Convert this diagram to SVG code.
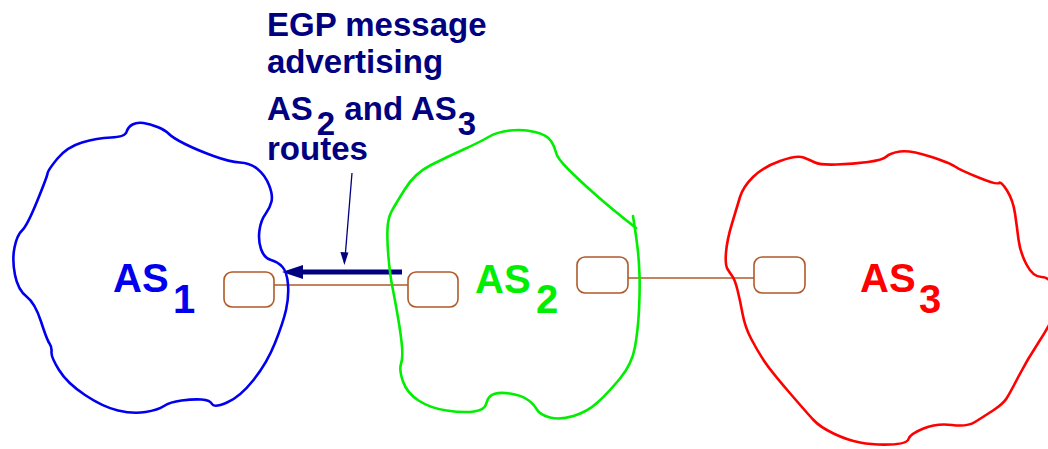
<svg xmlns="http://www.w3.org/2000/svg" width="1048" height="449" viewBox="0 0 1048 449">
  <style>
    .blob { fill: none; stroke-width: 2.6; stroke-linejoin: round; stroke-linecap: round; }
    .router { fill: #ffffff; stroke: #b05a28; stroke-width: 1.6; }
    .link { stroke: #b05a28; stroke-width: 1.6; fill: none; }
    .note { font-family: "Liberation Sans", Arial, sans-serif; font-weight: bold; font-size: 33px; fill: #000080; }
    .as { font-family: "Liberation Sans", Arial, sans-serif; font-weight: bold; font-size: 40px; }
    .sub { text-anchor: middle; }
  </style>

  <!-- inter-AS links -->
  <g id="connectors">
    <line class="link" x1="274" y1="285" x2="408" y2="285"/>
    <line class="link" x1="628" y1="278" x2="754" y2="278"/>
    <!-- EGP advertisement arrow AS2 -> AS1 -->
    <line x1="402" y1="272" x2="300" y2="272" stroke="#000080" stroke-width="5"/>
    <polygon points="282,272 303,265 303,279" fill="#000080"/>
    <!-- pointer from the note to the advertisement -->
    <line x1="352" y1="173" x2="345.2" y2="256" stroke="#000080" stroke-width="1.3"/>
    <polygon points="344.4,265 340.4,252 348.4,252.6" fill="#000080"/>
  </g>

  <!-- AS1 -->
  <g id="as1">
    <path class="blob" stroke="#0000ee" d="M111,137.5 Q125,137 126.5,132 Q128,127 132.5,124.5 Q137,122 143.5,123 Q150,124 157.5,127 Q165,130 169,134 Q173,138 185,144 Q197,150 213.5,156 Q230,162 240,162.5 Q250,163 257.5,169 Q265,175 269,185 Q273,195 271.5,201.5 Q270,208 265.5,214 Q261,220 259.5,230 Q258,240 261,249 Q264,258 271,260 Q278,262 282.5,267 Q287,272 288,284.5 Q289,297 286,310 Q283,323 275,343 Q267,363 253.5,380 Q240,397 227,402.5 Q214,408 212,404 Q210,400 201.5,399.5 Q193,399 181.5,400.5 Q170,402 164,406 Q158,410 145.5,412 Q133,414 118,410.5 Q103,407 85,395 Q67,383 59,370 Q51,357 51.5,352 Q52,347 49.5,343.5 Q47,340 41,321.5 Q35,303 26.5,296.5 Q18,290 15,275 Q12,260 14.5,247.5 Q17,235 22,230.5 Q27,226 37,201.5 Q47,177 47.5,173.5 Q48,170 57.5,158.5 Q67,147 82,142.5 Q97,138 111,137.5 Z"/>
    <rect class="router" x="224" y="272" width="50" height="35" rx="8"/>
    <text class="as" x="113" y="292" fill="#0000ee">AS</text>
    <text class="as sub" x="184" y="313" fill="#0000ee">1</text>
  </g>

  <!-- AS2 -->
  <g id="as2">
    <path class="blob" stroke="#00ee00" d="M633,216 Q636,235 637.5,247.5 Q639,260 639.5,275 Q640,290 639,310 Q638,330 635,347 Q632,364 620,378.5 Q608,393 597.5,402.5 Q587,412 573.5,416 Q560,420 550,417.5 Q540,415 536.5,409 Q533,403 526.5,399 Q520,395 510,393.5 Q500,392 494,394 Q488,396 486.5,403 Q485,410 474,411.5 Q463,413 446.5,410.5 Q430,408 418.5,400.5 Q407,393 403,381.5 Q399,370 401,364 Q403,358 402,346.5 Q401,335 398,317.5 Q395,300 392.5,287.5 Q390,275 388.5,257.5 Q387,240 387.5,229 Q388,218 391.5,211.5 Q395,205 405,189 Q415,173 431,165 Q447,157 463.5,149.5 Q480,142 488.5,137 Q497,132 510,130.5 Q523,129 535,132 Q547,135 551,141 Q555,147 556,152.5 Q557,158 568.5,169.5 Q580,181 596.5,195.5 Q613,210 636,228"/>
    <rect class="router" x="408" y="272" width="50" height="35" rx="8"/>
    <rect class="router" x="577" y="257" width="51" height="36" rx="8"/>
    <text class="as" x="475" y="293" fill="#00ee00">AS</text>
    <text class="as sub" x="547" y="313" fill="#00ee00">2</text>
  </g>

  <!-- AS3 -->
  <g id="as3">
    <path class="blob" stroke="#ff0000" d="M732.5,276.5 Q730,273 727.5,269 Q725,265 726,252.5 Q727,240 732,223.5 Q737,207 740,197 Q743,187 753,177 Q763,167 780,161 Q797,155 803.5,157.5 Q810,160 815,162.5 Q820,165 836.5,164.5 Q853,164 868,162 Q883,160 886.5,156.5 Q890,153 900,151.5 Q910,150 930,156.5 Q950,163 955,166.5 Q960,170 978.5,177.5 Q997,185 999,183 Q1001,181 1007,190.5 Q1013,200 1015,213.5 Q1017,227 1018.5,239.5 Q1020,252 1026.5,264.5 Q1033,277 1041.5,277 Q1050,277 1055,288.5 Q1060,300 1055,312.5 Q1050,325 1038.5,342.5 Q1027,360 1018.5,376.5 Q1010,393 1006.5,398.5 Q1003,404 993,410.5 Q983,417 975,422 Q967,427 952,425 Q937,423 923.5,428.5 Q910,434 908.5,439 Q907,444 890,444.5 Q873,445 860,442.5 Q847,440 833.5,433.5 Q820,427 813.5,420 Q807,413 788.5,391.5 Q770,370 763.5,360 Q757,350 751,338.5 Q745,327 742.5,313.5 Q740,300 737.5,290 Q735,280 732.5,276.5 Z"/>
    <rect class="router" x="754" y="257" width="51" height="36" rx="8"/>
    <text class="as" x="860" y="292" fill="#ff0000">AS</text>
    <text class="as sub" x="930" y="313" fill="#ff0000">3</text>
  </g>

  <!-- note on the EGP message -->
  <g id="note">
    <text class="note" x="267" y="36">EGP message</text>
    <text class="note" x="267" y="73">advertising</text>
    <text class="note" x="267" y="120">AS<tspan dx="4" dy="15">2</tspan><tspan dy="-15"> and AS</tspan><tspan dx="1" dy="15">3</tspan></text>
    <text class="note" x="267" y="160">routes</text>
  </g>
</svg>
